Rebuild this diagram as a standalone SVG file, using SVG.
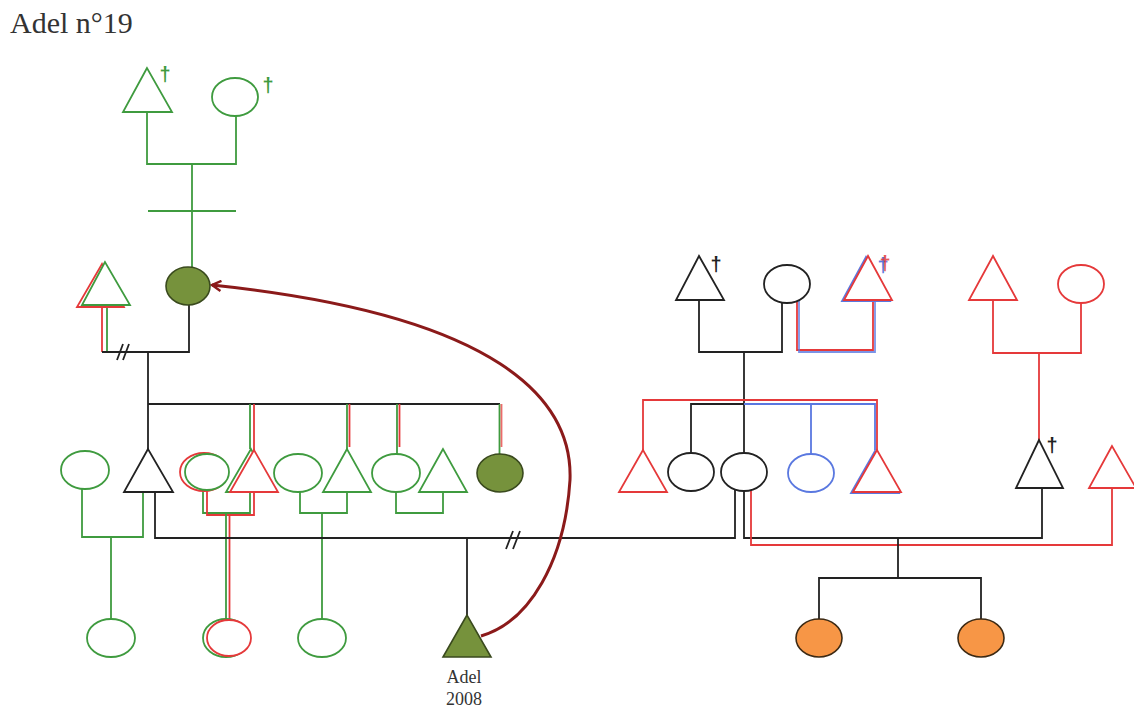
<svg xmlns="http://www.w3.org/2000/svg" width="1134" height="709" viewBox="0 0 1134 709">
  <style>
    .g { stroke: #3f9b3f; }
    .r { stroke: #e5393a; }
    .b { stroke: #5a78e0; }
    .k { stroke: #222; }
    .shape { fill: #fff; stroke-width: 1.8; stroke-linejoin: miter; }
    .line { fill: none; stroke-width: 1.8; }
    .olive { fill: #76923c; stroke: #3a4a1e; stroke-width: 1.6; }
    .orange { fill: #f79646; stroke: #3d2a14; stroke-width: 1.6; }
    .dag { font-family: "Liberation Sans", Arial, sans-serif; font-size: 20px; font-weight: bold; text-anchor: middle; }
    .lbl { font-family: "Liberation Serif", "Times New Roman", serif; fill: #333; }
  </style>
  <defs>
    <marker id="chev" viewBox="0 0 12 12" refX="10" refY="6" markerWidth="12" markerHeight="12" markerUnits="userSpaceOnUse" orient="auto">
      <path d="M1,1 L10,6 L1,11" fill="none" stroke="#8b1a1a" stroke-width="2.4"/>
    </marker>
  </defs>
  <rect width="1134" height="709" fill="#fff"/>

  <text class="lbl" x="10" y="33" font-size="30" fill="#222">Adel n°19</text>

  <!-- connectors -->
  <g id="connectors">
    <!-- green grandparents -->
    <path class="line g" d="M147,112 V164 H236 V116"/>
    <path class="line g" d="M192,164 V268"/>
    <path class="line g" d="M148,211 H236"/>
    <!-- divorced couple, left -->
    <path class="line r" d="M102,307 V352"/>
    <path class="line g" d="M107,305 V352"/>
    <path class="line k" d="M102,352 H189 V305"/>
    <path class="line k" d="M117,360 L123,344 M123,360 L129,344" stroke-width="1.5"/>
    <path class="line k" d="M148,352 V404 M148,404 V449 M148,404 H500"/>
    <!-- sibship drops -->
    <path class="line g" d="M250,404 V449"/>
    <path class="line r" d="M254,404 V450"/>
    <path class="line g" d="M347,404 V449"/>
    <path class="line r" d="M349.5,404 V447"/>
    <path class="line g" d="M397,404 V454"/>
    <path class="line r" d="M399.5,404 V447"/>
    <path class="line g" d="M499.5,404 V454"/>
    <path class="line r" d="M501.5,404 V447" stroke-opacity="0.75"/>
    <!-- sibling couples -->
    <path class="line g" d="M82,489 V537 H143 V492"/>
    <path class="line g" d="M111,537 V619"/>
    <path class="line g" d="M203,490 V513 H250 V492"/>
    <path class="line r" d="M207,490 V515 H254 V492"/>
    <path class="line g" d="M226,513 V619"/>
    <path class="line r" d="M229.5,515 V619"/>
    <path class="line g" d="M300,491 V513 H347 V492"/>
    <path class="line g" d="M322,513 V619"/>
    <path class="line g" d="M396,491 V513 H443 V492"/>
    <!-- parents of Adel -->
    <path class="line k" d="M155,492 V538 H735 V489"/>
    <path class="line k" d="M467,538 V615"/>
    <path class="line k" d="M506,549 L513,531 M513,549 L520,531" stroke-width="1.5"/>
    <!-- black grandparents -->
    <path class="line k" d="M699,300 V352 H782 V302"/>
    <path class="line k" d="M744,352 V453"/>
    <path class="line r" d="M797,299 V350 H873 V300"/>
    <path class="line b" d="M799,299 V352 H875 V300" stroke-opacity="0.8"/>
    <path class="line r" d="M643,450 V400 H877 V450"/>
    <path class="line k" d="M691,453 V404 H744"/>
    <path class="line b" d="M744,404 H875 V450 M811,404 V454"/>
    <!-- red grandparents -->
    <path class="line r" d="M993,300 V353 H1081 V303"/>
    <path class="line r" d="M1039,353 V440"/>
    <!-- second couple and their daughters -->
    <path class="line k" d="M744,490 V538 H1042 V488"/>
    <path class="line r" d="M751,489 V545 H1112 V488"/>
    <path class="line k" d="M898,538 V578 M819,620 V578 H981 V620"/>
    <!-- curved link -->
    <path d="M481,636 C530,622 565,560 570,480 C573,400 500,315 212,285" fill="none" stroke="#8b1a1a" stroke-width="3" marker-end="url(#chev)"/>
  </g>

  <!-- generation I -->
  <g id="gp-green-father">
    <polygon class="shape g" points="147,68 123,112 172,112"/>
    <text class="dag" x="165" y="81" fill="#3f9b3f">†</text>
  </g>
  <g id="gp-green-mother">
    <ellipse class="shape g" cx="235" cy="97" rx="23" ry="19"/>
    <text class="dag" x="268" y="92" fill="#3f9b3f">†</text>
  </g>
  <g id="gp-black-father">
    <polygon class="shape k" points="699,256 676,300 724,300"/>
    <text class="dag" x="716" y="271" fill="#222">†</text>
  </g>
  <g id="gp-black-mother">
    <ellipse class="shape k" cx="787" cy="284" rx="23" ry="19"/>
  </g>
  <g id="gp-second-husband">
    <polygon class="shape b" points="866,257 842,301 890,301"/>
    <polygon class="shape r" points="868,256 844,300 892,300" fill="none"/>
    <text class="dag" x="883" y="272" fill="#5a78e0">†</text>
    <text class="dag" x="885" y="270" fill="#e5393a" fill-opacity="0.85">†</text>
  </g>
  <g id="gp-red-father">
    <polygon class="shape r" points="993,256 969,300 1017,300"/>
  </g>
  <g id="gp-red-mother">
    <ellipse class="shape r" cx="1081" cy="284" rx="23" ry="19"/>
  </g>

  <!-- generation II -->
  <g id="ex-husband">
    <polygon class="shape r" points="102,264 77,307 124,307"/>
    <polygon class="shape g" points="105,262 82,305 130,305" fill="none"/>
  </g>
  <g id="mother">
    <ellipse class="olive" cx="188" cy="286" rx="22" ry="19"/>
  </g>

  <!-- generation III, left -->
  <g id="aunt-in-law-1"><ellipse class="shape g" cx="85" cy="470" rx="24" ry="19"/></g>
  <g id="father"><polygon class="shape k" points="148,449 124,492 173,492"/></g>
  <g id="sib-wife-2">
    <ellipse class="shape r" cx="204" cy="472" rx="24" ry="19"/>
    <ellipse class="shape g" cx="207" cy="472" rx="22" ry="18" fill="none"/>
  </g>
  <g id="sib-2">
    <polygon class="shape g" points="251,449 226,492 274,492"/>
    <polygon class="shape r" points="254,450 230,492 278,492" fill="none"/>
  </g>
  <g id="sib-wife-3"><ellipse class="shape g" cx="298" cy="473" rx="24" ry="19"/></g>
  <g id="sib-3"><polygon class="shape g" points="347,449 323,492 371,492"/></g>
  <g id="sib-wife-4"><ellipse class="shape g" cx="396" cy="473" rx="24" ry="19"/></g>
  <g id="sib-4"><polygon class="shape g" points="443,449 419,492 467,492"/></g>
  <g id="sib-5"><ellipse class="olive" cx="500" cy="473" rx="23" ry="19"/></g>

  <!-- generation III, right -->
  <g id="half-sib-red"><polygon class="shape r" points="643,450 619,492 667,492"/></g>
  <g id="aunt-black"><ellipse class="shape k" cx="691" cy="472" rx="23" ry="19"/></g>
  <g id="stepmother"><ellipse class="shape k" cx="744" cy="472" rx="23" ry="19"/></g>
  <g id="half-sib-blue"><ellipse class="shape b" cx="811" cy="473" rx="23" ry="19"/></g>
  <g id="half-sib-purple">
    <polygon class="shape b" points="875,451 851,493 899,493"/>
    <polygon class="shape r" points="877,450 853,492 901,492" fill="none"/>
  </g>
  <g id="second-man">
    <polygon class="shape k" points="1039,440 1016,488 1063,488"/>
    <text class="dag" x="1052" y="452" fill="#222">†</text>
  </g>
  <g id="third-man"><polygon class="shape r" points="1112,446 1089,488 1136,488"/></g>

  <!-- generation IV -->
  <g id="cousin-1"><ellipse class="shape g" cx="111" cy="638" rx="24" ry="19"/></g>
  <g id="cousin-2">
    <ellipse class="shape g" cx="226" cy="638" rx="23" ry="19"/>
    <ellipse class="shape r" cx="229" cy="638" rx="22" ry="18" fill="none"/>
  </g>
  <g id="cousin-3"><ellipse class="shape g" cx="322" cy="638" rx="24" ry="19"/></g>
  <g id="adel">
    <polygon class="olive" points="467,615 443,657 491,657"/>
    <text class="lbl" x="464" y="683" font-size="18" text-anchor="middle">Adel</text>
    <text class="lbl" x="464" y="705" font-size="18" text-anchor="middle">2008</text>
  </g>
  <g id="half-sister-1"><ellipse class="orange" cx="819" cy="638" rx="23" ry="19"/></g>
  <g id="half-sister-2"><ellipse class="orange" cx="981" cy="638" rx="23" ry="19"/></g>
</svg>
